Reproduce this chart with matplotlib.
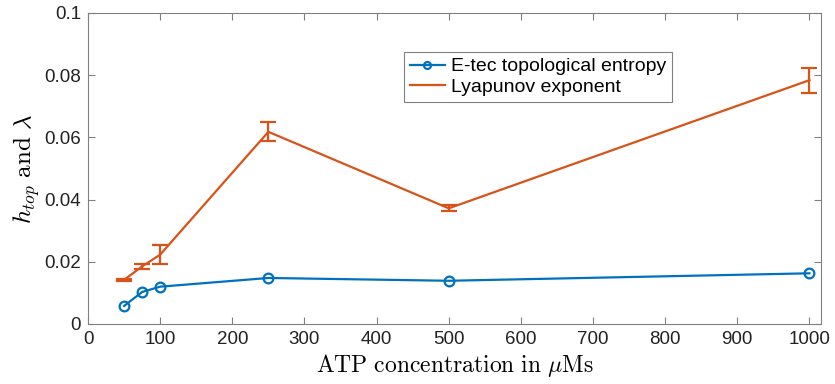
import matplotlib
matplotlib.use("Agg")
import matplotlib.pyplot as plt
from matplotlib.lines import Line2D

atp = [50, 75, 100, 250, 500, 1000]
htop = [0.0058, 0.0103, 0.0120, 0.0148, 0.0139, 0.0163]
lyap = [0.0142, 0.0185, 0.0223, 0.0618, 0.0372, 0.0784]
lyap_err = [0.0004, 0.0009, 0.0030, 0.0031, 0.0010, 0.0040]

xticks = [0, 100, 200, 300, 400, 500, 600, 700, 800, 900, 1000]
yticks = [0, 0.02, 0.04, 0.06, 0.08, 0.1]
ytick_labels = ["0", "0.02", "0.04", "0.06", "0.08", "0.1"]

blue = "#0072BD"
orange = "#D95319"

plt.rcParams['font.family'] = ['Liberation Sans', 'DejaVu Sans']
plt.rcParams['mathtext.fontset'] = 'cm'

fig = plt.figure(figsize=(8.35, 3.84), dpi=100)
ax = fig.add_axes([0.1054, 0.15625, 0.8778, 0.8099])

ax.plot(atp, htop, color=blue, lw=1.6, marker='o', markersize=7,
        markerfacecolor='none', markeredgewidth=1.6)
ax.errorbar(atp, lyap, yerr=lyap_err, color=orange, lw=1.6, capsize=6,
            elinewidth=1.6, capthick=1.6)

ax.set_xlim(0, 1016)
ax.set_ylim(0, 0.1)
ax.set_xticks(xticks)
ax.set_yticks(yticks)
ax.set_yticklabels(ytick_labels)
ax.tick_params(direction='in', length=5, width=0.8, colors='#808080',
               labelcolor='#222222', labelsize=13.5, top=True, right=True, pad=5)
for s in ax.spines.values():
    s.set_color('#808080')
    s.set_linewidth(0.8)

ax.set_xlabel(r'$\mathrm{ATP\ concentration\ in\ }\mu\mathrm{Ms}$', fontsize=17,
              labelpad=3)
ax.set_ylabel(r'$h_{top}\ \mathrm{and}\ \lambda$', fontsize=18, labelpad=2)

handles = [Line2D([], [], color=blue, lw=1.6, marker='o', markersize=5,
                  markerfacecolor='none', markeredgewidth=1.6),
           Line2D([], [], color=orange, lw=1.6)]
leg = ax.legend(handles, ['E-tec topological entropy', 'Lyapunov exponent'],
                loc='upper left', bbox_to_anchor=(0.431, 0.875), fontsize=14,
                fancybox=False, framealpha=1, edgecolor='#808080',
                handlelength=1.8, borderpad=0.3, labelspacing=0.15,
                handletextpad=0.3, borderaxespad=0)
leg.get_frame().set_linewidth(0.8)

fig.savefig('out.png', dpi=100)
